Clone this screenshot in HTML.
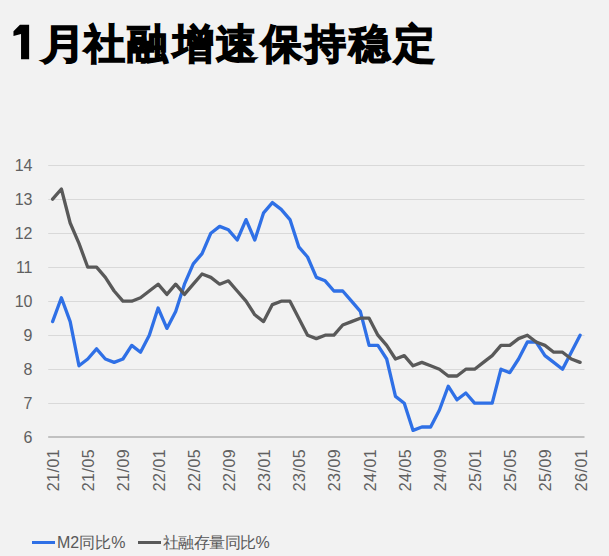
<!DOCTYPE html>
<html><head><meta charset="utf-8"><style>
html,body{margin:0;padding:0;}
body{width:609px;height:556px;background:#f2f2f2;overflow:hidden;position:relative;font-family:"Liberation Sans",sans-serif;}
.title{position:absolute;left:12px;top:22px;font-size:40.5px;font-weight:700;color:#000;white-space:nowrap;line-height:1;-webkit-text-stroke:1.5px #000;}
.t1{position:absolute;left:12px;top:22px;font-size:44px;font-weight:700;color:#000;line-height:1;}
.tc{position:absolute;top:23.6px;font-size:40.5px;font-weight:700;color:#000;white-space:nowrap;line-height:1;-webkit-text-stroke:1.5px #000;}
svg{position:absolute;left:0;top:0;}
.ax text{font-family:"Liberation Sans",sans-serif;font-size:16px;fill:#606060;}
.leg{position:absolute;top:533px;font-size:16px;color:#595959;white-space:nowrap;line-height:20px;}
.sw{display:inline-block;width:23px;height:3px;vertical-align:middle;margin-right:2px;position:relative;top:-1px;}
</style></head><body>
<svg width="609" height="80" style="position:absolute;left:0;top:0"><polygon points="19.96,24.7 29.13,24.7 29.13,59.2 21.04,59.2 21.04,33.9 13.48,36.0 13.48,31.2" fill="#000"/></svg><span class="tc" style="left:43.5px;transform:scaleX(1.09);transform-origin:33px 50%">月</span><span class="tc" style="left:83.7px">社</span><span class="tc" style="left:126.8px">融</span><span class="tc" style="left:172.8px">增</span><span class="tc" style="left:215.5px">速</span><span class="tc" style="left:260.7px">保</span><span class="tc" style="left:305.1px">持</span><span class="tc" style="left:349px">稳</span><span class="tc" style="left:393.9px">定</span>
<svg width="609" height="556" viewBox="0 0 609 556">
<g><line x1="48.2" x2="584.5" y1="403.5" y2="403.5" stroke="#d9d9d9" stroke-width="1"/><line x1="48.2" x2="584.5" y1="369.5" y2="369.5" stroke="#d9d9d9" stroke-width="1"/><line x1="48.2" x2="584.5" y1="335.5" y2="335.5" stroke="#d9d9d9" stroke-width="1"/><line x1="48.2" x2="584.5" y1="301.5" y2="301.5" stroke="#d9d9d9" stroke-width="1"/><line x1="48.2" x2="584.5" y1="267.5" y2="267.5" stroke="#d9d9d9" stroke-width="1"/><line x1="48.2" x2="584.5" y1="233.5" y2="233.5" stroke="#d9d9d9" stroke-width="1"/><line x1="48.2" x2="584.5" y1="199.5" y2="199.5" stroke="#d9d9d9" stroke-width="1"/><line x1="48.2" x2="584.5" y1="165.5" y2="165.5" stroke="#d9d9d9" stroke-width="1"/><line x1="48.2" x2="584.5" y1="437" y2="437" stroke="#b0b0b0" stroke-width="1.5"/></g>
<g class="ax"><text x="32.5" y="443.00" text-anchor="end">6</text><text x="32.5" y="409.00" text-anchor="end">7</text><text x="32.5" y="375.00" text-anchor="end">8</text><text x="32.5" y="341.00" text-anchor="end">9</text><text x="32.5" y="307.00" text-anchor="end">10</text><text x="32.5" y="273.00" text-anchor="end">11</text><text x="32.5" y="239.00" text-anchor="end">12</text><text x="32.5" y="205.00" text-anchor="end">13</text><text x="32.5" y="171.00" text-anchor="end">14</text><text transform="translate(59.10,448.8) rotate(-90)" text-anchor="end" letter-spacing="0.5">21/01</text><text transform="translate(94.26,448.8) rotate(-90)" text-anchor="end" letter-spacing="0.5">21/05</text><text transform="translate(129.43,448.8) rotate(-90)" text-anchor="end" letter-spacing="0.5">21/09</text><text transform="translate(164.60,448.8) rotate(-90)" text-anchor="end" letter-spacing="0.5">22/01</text><text transform="translate(199.76,448.8) rotate(-90)" text-anchor="end" letter-spacing="0.5">22/05</text><text transform="translate(234.93,448.8) rotate(-90)" text-anchor="end" letter-spacing="0.5">22/09</text><text transform="translate(270.10,448.8) rotate(-90)" text-anchor="end" letter-spacing="0.5">23/01</text><text transform="translate(305.27,448.8) rotate(-90)" text-anchor="end" letter-spacing="0.5">23/05</text><text transform="translate(340.43,448.8) rotate(-90)" text-anchor="end" letter-spacing="0.5">23/09</text><text transform="translate(375.60,448.8) rotate(-90)" text-anchor="end" letter-spacing="0.5">24/01</text><text transform="translate(410.77,448.8) rotate(-90)" text-anchor="end" letter-spacing="0.5">24/05</text><text transform="translate(445.94,448.8) rotate(-90)" text-anchor="end" letter-spacing="0.5">24/09</text><text transform="translate(481.10,448.8) rotate(-90)" text-anchor="end" letter-spacing="0.5">25/01</text><text transform="translate(516.27,448.8) rotate(-90)" text-anchor="end" letter-spacing="0.5">25/05</text><text transform="translate(551.44,448.8) rotate(-90)" text-anchor="end" letter-spacing="0.5">25/09</text><text transform="translate(586.60,448.8) rotate(-90)" text-anchor="end" letter-spacing="0.5">26/01</text></g>
<polyline points="52.60,321.60 61.39,297.80 70.18,321.60 78.97,365.80 87.76,359.00 96.55,348.80 105.35,359.00 114.14,362.40 122.93,359.00 131.72,345.40 140.51,352.20 149.31,335.20 158.10,308.00 166.89,328.40 175.68,311.40 184.47,284.20 193.26,263.80 202.06,253.60 210.85,233.20 219.64,226.40 228.43,229.80 237.22,240.00 246.02,219.60 254.81,240.00 263.60,212.80 272.39,202.60 281.18,209.40 289.97,219.60 298.77,246.80 307.56,257.00 316.35,277.40 325.14,280.80 333.93,291.00 342.73,291.00 351.52,301.20 360.31,311.40 369.10,345.40 377.89,345.40 386.68,359.00 395.48,396.40 404.27,403.20 413.06,430.40 421.85,427.00 430.64,427.00 439.44,410.00 448.23,386.20 457.02,399.80 465.81,393.00 474.60,403.20 483.39,403.20 492.19,403.20 500.98,369.20 509.77,372.60 518.56,359.00 527.35,342.00 536.15,342.00 544.94,355.60 553.73,362.40 562.52,369.20 571.31,352.20 580.10,335.20" fill="none" stroke="#2f70e6" stroke-width="3.3" stroke-linejoin="round" stroke-linecap="round"/>
<polyline points="52.60,199.20 61.39,189.00 70.18,223.00 78.97,243.40 87.76,267.20 96.55,267.20 105.35,277.40 114.14,291.00 122.93,301.20 131.72,301.20 140.51,297.80 149.31,291.00 158.10,284.20 166.89,294.40 175.68,284.20 184.47,294.40 193.26,284.20 202.06,274.00 210.85,277.40 219.64,284.20 228.43,280.80 237.22,291.00 246.02,301.20 254.81,314.80 263.60,321.60 272.39,304.60 281.18,301.20 289.97,301.20 298.77,318.20 307.56,335.20 316.35,338.60 325.14,335.20 333.93,335.20 342.73,325.00 351.52,321.60 360.31,318.20 369.10,318.20 377.89,335.20 386.68,345.40 395.48,359.00 404.27,355.60 413.06,365.80 421.85,362.40 430.64,365.80 439.44,369.20 448.23,376.00 457.02,376.00 465.81,369.20 474.60,369.20 483.39,362.40 492.19,355.60 500.98,345.40 509.77,345.40 518.56,338.60 527.35,335.20 536.15,342.00 544.94,345.40 553.73,352.20 562.52,352.20 571.31,359.00 580.10,362.40" fill="none" stroke="#595959" stroke-width="3.3" stroke-linejoin="round" stroke-linecap="round"/>
</svg>
<div class="leg" style="left:32px"><span class="sw" style="background:#2f70e6"></span>M2同比%</div>
<div class="leg" style="left:138px;letter-spacing:-0.6px"><span class="sw" style="background:#595959"></span>社融存量同比%</div>
</body></html>
